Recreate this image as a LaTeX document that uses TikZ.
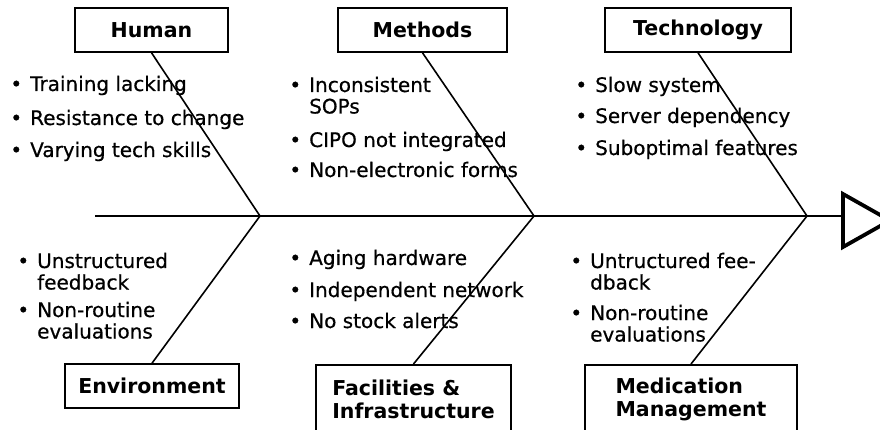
\documentclass[tikz,border=0pt]{standalone}
\usepackage{fontspec}
\setmainfont{DejaVu Sans}
% slightly heavier face for the cause lists
\newfontfamily\itemface{DejaVu Sans}[FakeBold=0.6]
% bullet hung to the left of the item text
\newcommand\bul{\leavevmode\llap{•\hspace{8pt}}}
% two-line bullet item, first line on the node's baseline
\newcommand\dbl[2]{\parbox[t]{230pt}{\bul #1\\#2}}
\begin{document}
\begin{tikzpicture}[x=1pt,y=-1pt,
  cat/.style={draw, line width=1.6pt, minimum height=44pt, inner sep=0pt,
    font=\fontsize{20.5}{23}\selectfont\bfseries, align=left},
  itm/.style={anchor=base west, inner sep=0pt, font=\itemface\fontsize{20}{21.5}\selectfont},
  bone/.style={line width=1.6pt},
  headtri/.style={line width=3.8pt, line join=miter}
]
\useasboundingbox (0,0) rectangle (880,430);

% category boxes
\node[cat, minimum width=153pt] (human) at (151.5,30) {Human};
\node[cat, minimum width=169pt] (methods) at (422.5,30) {Methods};
\node[cat, minimum width=186pt] (tech) at (698,30) {Technology};
\node[cat, minimum width=174pt] (env) at (152,386) {Environment};
\node[cat, minimum width=195pt, minimum height=70pt, anchor=north] (fac) at (413.5,364) {Facilities \&\\Infrastructure};
\node[cat, minimum width=212pt, minimum height=70pt, anchor=north] (med) at (691,364) {Medication\\Management};

% spine and joints
\coordinate (tail) at (95,216);
\coordinate (head) at (843,216);
\coordinate (j1) at (260,216);
\coordinate (j2) at (534,216);
\coordinate (j3) at (807,216);
\draw[bone] (tail) -- (head);
\draw[headtri] (843,194) -- (843,247) -- (890,220.5) -- cycle;

% bones
\draw[bone] (human.south) -- (j1);
\draw[bone] (methods.south) -- (j2);
\draw[bone] (tech.south) -- (j3);
\draw[bone] (env.north) -- (j1);
\draw[bone] (fac.north) -- (j2);
\draw[bone] (med.north) -- (j3);

% causes: Human
\node[itm] (h1) at (30,91) {\bul Training lacking};
\node[itm] (h2) at (30,125) {\bul Resistance to change};
\node[itm] (h3) at (30,157) {\bul Varying tech skills};
% causes: Methods
\node[itm] (m1) at (309,92) {\dbl{Inconsistent}{SOPs}};
\node[itm] (m2) at (309,147) {\bul CIPO not integrated};
\node[itm] (m3) at (309,177) {\bul Non-electronic forms};
% causes: Technology
\node[itm] (t1) at (595,92) {\bul Slow system};
\node[itm] (t2) at (595,123) {\bul Server dependency};
\node[itm] (t3) at (595,155) {\bul Suboptimal features};
% causes: Environment
\node[itm] (e1) at (37,268) {\dbl{Unstructured}{feedback}};
\node[itm] (e2) at (37,317) {\dbl{Non-routine}{evaluations}};
% causes: Facilities & Infrastructure
\node[itm] (f1) at (309,265) {\bul Aging hardware};
\node[itm] (f2) at (309,297) {\bul Independent network};
\node[itm] (f3) at (309,328) {\bul No stock alerts};
% causes: Medication Management
\node[itm] (d1) at (590,268) {\dbl{Untructured fee-}{dback}};
\node[itm] (d2) at (590,320) {\dbl{Non-routine}{evaluations}};
\end{tikzpicture}
\end{document}
